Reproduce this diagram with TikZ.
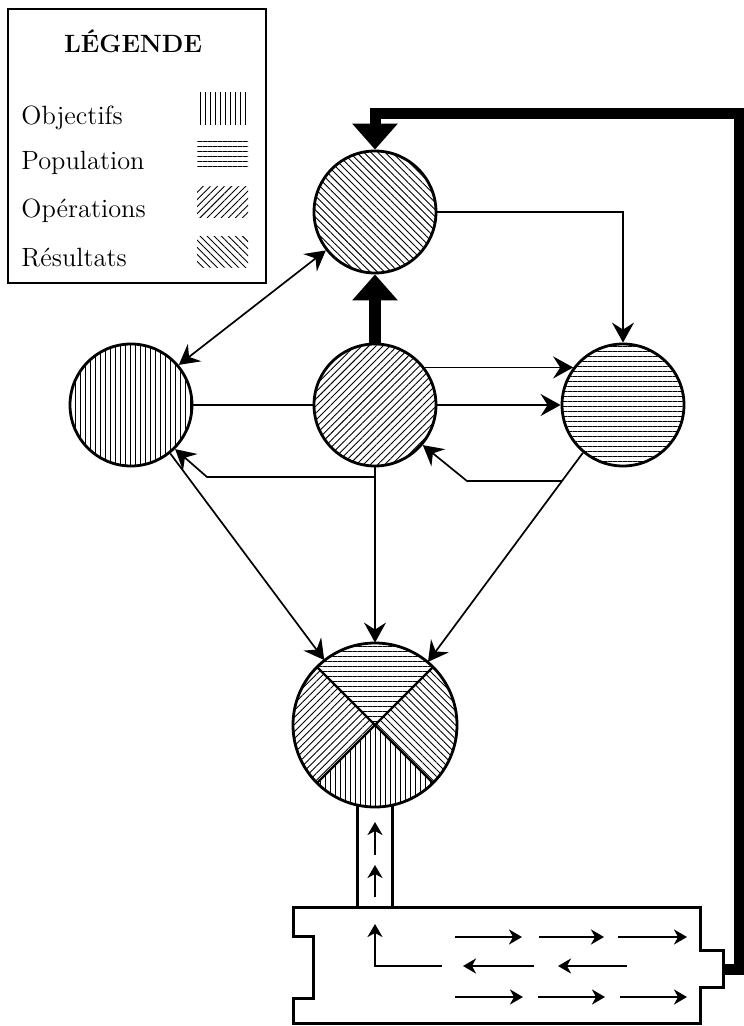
\documentclass[tikz,border=0pt]{standalone}
\usepackage{fontspec}
\usetikzlibrary{arrows.meta,patterns.meta,calc}
\begin{document}
\begin{tikzpicture}[x=0.5pt,y=-0.5pt,
  circ/.style={circle, inner sep=0pt, line width=1.4pt, draw=black},
  link/.style={line width=0.85pt, -{Stealth[length=10pt,width=11pt,inset=3.5pt]}},
  dlink/.style={line width=0.85pt, {Stealth[length=10pt,width=11pt,inset=3.5pt]}-{Stealth[length=10pt,width=11pt,inset=3.5pt]}},
  plainlink/.style={line width=0.85pt},
  heavy/.style={line width=5.5pt, line join=miter, -{Triangle[length=13pt,width=22pt]}},
  obj/.style={pattern={Lines[angle=90,distance=2.5pt,line width=0.45pt]}},
  pop/.style={pattern={Lines[angle=0,distance=2.5pt,line width=0.45pt]}},
  ope/.style={pattern={Lines[angle=45,distance=2.5pt,line width=0.45pt]}},
  res/.style={pattern={Lines[angle=-45,distance=2.5pt,line width=0.45pt]}},
  boxline/.style={line width=1.5pt, line join=miter},
  flow/.style={line width=1.3pt, -{Stealth[length=6.5pt,width=7.5pt,inset=2pt]}},
  legtext/.style={anchor=base west, inner sep=0pt, font=\fontsize{13.2}{15}\selectfont}
]
\useasboundingbox (0,0) rectangle (743,1026);

% ---------- legend ----------
\draw[line width=1.2pt] (8,9) rectangle (266,283);
\node[anchor=base, inner sep=0pt, font=\fontsize{12.5}{15}\selectfont\bfseries] (lt) at (133,53) {LÉGENDE};
\node[legtext] (lo) at (21,125) {Objectifs};
\node[legtext] (lp) at (21,170) {Population};
\node[legtext] (lop) at (21,218) {Opérations};
\node[legtext] (lr) at (21,267) {Résultats};
\fill[obj] (197,93) rectangle (248,125);
\fill[pop] (197,142) rectangle (248,167);
\fill[ope] (197,187) rectangle (248,218);
\fill[res] (197,237) rectangle (248,268);

% ---------- circles ----------
\node[circ, res, minimum size=61pt] (T) at (375,212) {};
\node[circ, obj, minimum size=61pt] (L) at (131,405) {};
\node[circ, ope, minimum size=61pt] (C) at (375,405) {};
\node[circ, pop, minimum size=61pt] (R) at (623,405) {};

% ---------- tube ----------
\draw[boxline] (357,805) -- (357,907);
\draw[boxline] (392,805) -- (392,907);

% ---------- bottom circle ----------
\node[circle, inner sep=0pt, minimum size=82pt] (B) at (375,725) {};
\begin{scope}[shift={(B.center)}, x=1pt, y=1pt]
  \fill[pop] (0,0) -- (45:41) arc[start angle=45,end angle=135,radius=41] -- cycle;
  \fill[res] (0,0) -- (-45:41) arc[start angle=-45,end angle=45,radius=41] -- cycle;
  \fill[obj] (0,0) -- (-135:41) arc[start angle=-135,end angle=-45,radius=41] -- cycle;
  \fill[ope] (0,0) -- (135:41) arc[start angle=135,end angle=225,radius=41] -- cycle;
  \draw[line width=1.1pt] (45:41) -- (-135:41) (135:41) -- (-45:41);
  \draw[line width=1.4pt] (0,0) circle[radius=41];
\end{scope}

% ---------- bottom box ----------
\draw[boxline] (293,907) -- (700,907) -- (700,950) -- (723,950) -- (723,987)
  -- (700,987) -- (700,1023) -- (293,1023) -- (293,998) -- (313,998) -- (313,936) -- (293,936) -- cycle;
\coordinate (nub) at (723,969);
\coordinate (rc1) at (739,969);
\coordinate (rc2) at (739,114);
\coordinate (tc) at (375,114);

% ---------- heavy connectors ----------
\draw[heavy] (nub) -- (rc1) -- (rc2) -- (tc) -- (T.north);
\draw[heavy, line width=6pt] (C.north) -- (T.south);

% ---------- thin connectors ----------
\draw[dlink] (T.218) -- (L.40);
\draw[link] (T.east) -| (R.north);
\draw[plainlink] (L.east) -- (C.west);
\draw[link] (C.37) -- (R.143);
\draw[link] (C.east) -- (R.west);
\draw[link] (C.south) -- (B.north);
\coordinate (cj) at (375,477);
\coordinate (lb) at (207,477);
\draw[link] (cj) -- (lb) -- (L.-45);
\draw[link] (L.-51) -- (B.128);
\draw[link] (R.230) -- (B.50);
\coordinate (rj) at ($(R.230)!0.135!(B.50)$);
\path (rj) ++(-95,0) coordinate (rb);
\draw[link] (rj) -- (rb) -- (C.-40);

% ---------- flows inside box ----------
\draw[flow] (375,897) -- (375,865);
\draw[flow] (375,855) -- (375,822);
\draw[flow] (455,937) -- (522,937);
\draw[flow] (539,937) -- (604,937);
\draw[flow] (618,937) -- (687,937);
\draw[flow] (534,966) -- (463,966);
\draw[flow] (627,966) -- (558,966);
\draw[flow] (442,966) -- (375,966) -- (375,924);
\draw[flow] (455,997) -- (523,997);
\draw[flow] (538,997) -- (605,997);
\draw[flow] (620,997) -- (687,997);
\end{tikzpicture}
\end{document}
